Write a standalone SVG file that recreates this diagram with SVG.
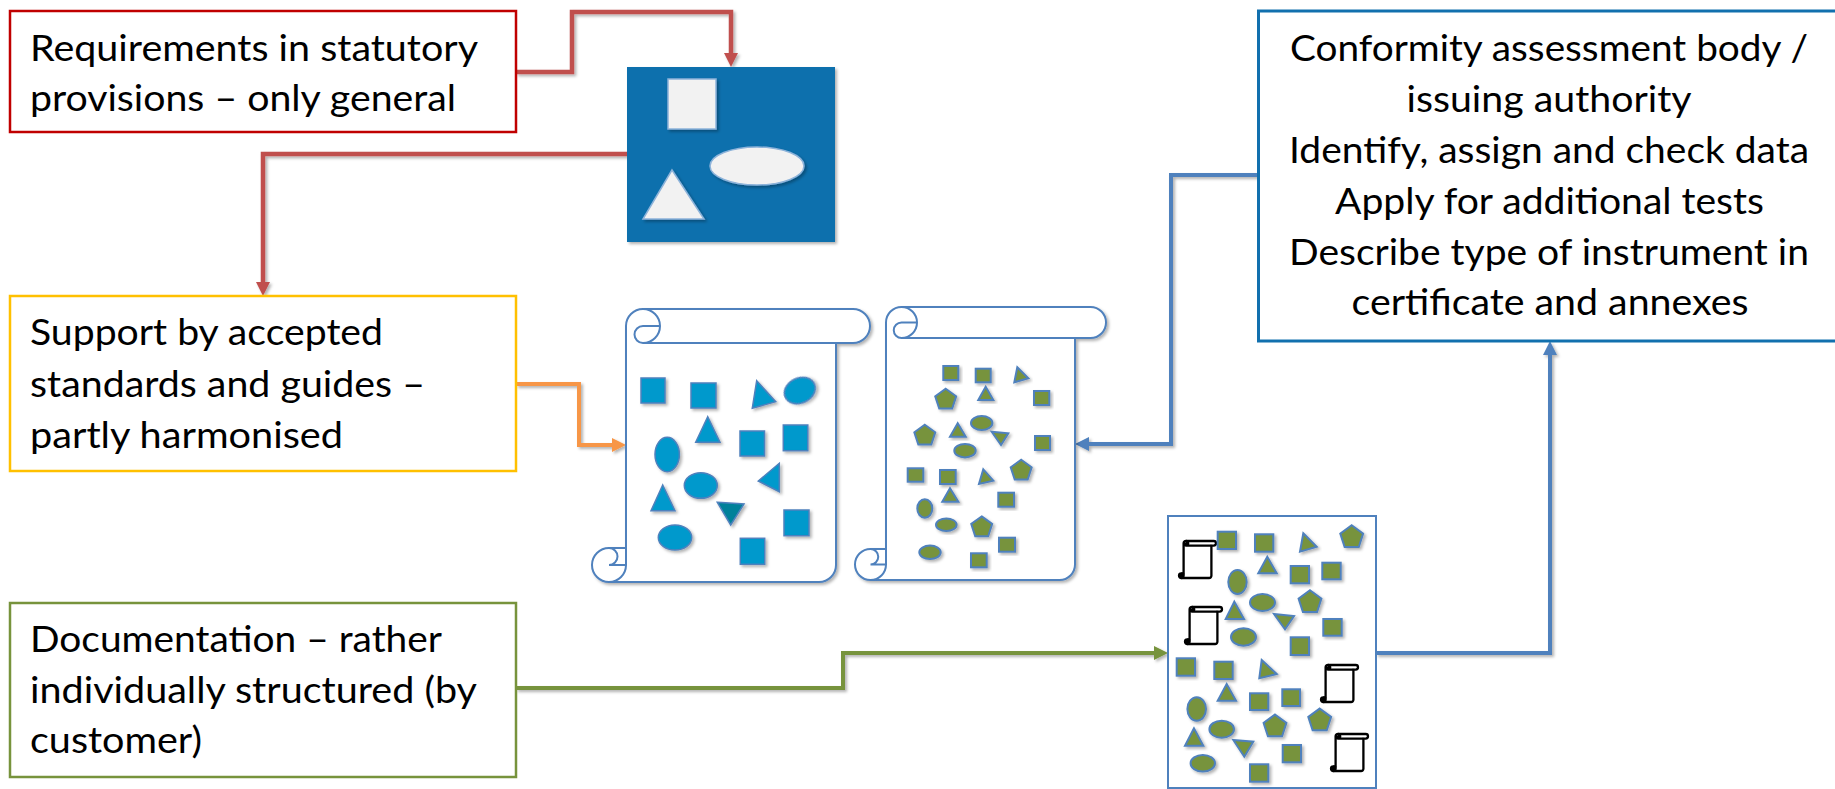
<svg xmlns="http://www.w3.org/2000/svg" xmlns:xlink="http://www.w3.org/1999/xlink" width="1835" height="789" viewBox="0 0 1835 789">
<style>
  .txt { font-family: Lato, "Open Sans", "Liberation Sans", sans-serif; font-size: 36.5px; fill: #000; }
  .mid { text-anchor: middle; }
  .box { fill: #fff; stroke-width: 2.5; }
  .conn { fill: none; stroke-linejoin: miter; filter: url(#sh); }
  .scroll { fill: #fff; stroke: #4F81BD; stroke-width: 2; }
  .scrolld { fill: none; stroke: #4F81BD; stroke-width: 2; }
  .bs { fill: #0099CC; stroke: #4F81BD; stroke-width: 1.5; filter: url(#sh); }
  .gs { fill: #77933C; stroke: #4F81BD; stroke-width: 2; filter: url(#sh); }
  .ws { fill: #F2F2F2; stroke: #8DB3DA; stroke-width: 1.5; filter: url(#sh); }
  .mini { fill: #fff; stroke: #000; stroke-width: 2.3; stroke-linejoin: round; }
  .minid { fill: none; stroke: #000; stroke-width: 2.3; stroke-linejoin: round; }
</style>
<defs>
  <filter id="sh" x="-20%" y="-20%" width="150%" height="150%">
    <feDropShadow dx="2" dy="2" stdDeviation="1.5" flood-color="#000" flood-opacity="0.3"/>
  </filter>
  <marker id="arR" markerUnits="userSpaceOnUse" viewBox="0 0 14 14" markerWidth="14" markerHeight="14" refX="2" refY="7" orient="auto"><path d="M0,0 L14,7 L0,14 z" fill="#C0504D"/></marker>
  <marker id="arO" markerUnits="userSpaceOnUse" viewBox="0 0 14 14" markerWidth="14" markerHeight="14" refX="2" refY="7" orient="auto"><path d="M0,0 L14,7 L0,14 z" fill="#F79646"/></marker>
  <marker id="arG" markerUnits="userSpaceOnUse" viewBox="0 0 14 14" markerWidth="14" markerHeight="14" refX="2" refY="7" orient="auto"><path d="M0,0 L14,7 L0,14 z" fill="#77933C"/></marker>
  <marker id="arB" markerUnits="userSpaceOnUse" viewBox="0 0 14 14" markerWidth="14" markerHeight="14" refX="2" refY="7" orient="auto"><path d="M0,0 L14,7 L0,14 z" fill="#4F81BD"/></marker>
  <polygon id="p11" points="0,-11 10.46,-3.4 6.47,8.9 -6.47,8.9 -10.46,-3.4"/>
  <polygon id="p12" points="0,-12 11.41,-3.71 7.05,9.71 -7.05,9.71 -11.41,-3.71"/>
  <g id="mini">
    <path class="mini" d="M4.6,32.4 L4.6,2.3 A2.3,2.3 0 0 1 6.9,0 L34.7,0 A2.3,2.3 0 0 1 34.7,4.6 L32.4,4.6 L32.4,34.7 A2.3,2.3 0 0 1 30.1,37 L2.3,37 A2.3,2.3 0 0 1 2.3,32.4 Z"/>
    <path class="minid" d="M6.9,0 A2.3,2.3 0 0 1 6.9,4.6 A1.15,1.15 0 0 1 6.9,2.3 L9.2,2.3 M32.4,4.6 L6.9,4.6 M2.3,32.4 A1.15,1.15 0 0 1 2.3,34.7 L4.6,34.7 M2.3,37 A2.3,2.3 0 0 0 4.6,34.7 L4.6,32.4"/>
    <circle cx="2.3" cy="34.7" r="2.2" fill="#000"/>
  </g>
</defs>

<rect width="1835" height="789" fill="#fff"/>

<g id="connectors">
  <path class="conn" stroke="#C0504D" stroke-width="4.5" d="M516,72 L572,72 L572,12 L731,12 L731,55" marker-end="url(#arR)"/>
  <path class="conn" stroke="#C0504D" stroke-width="4.5" d="M627,154 L263,154 L263,284" marker-end="url(#arR)"/>
  <path class="conn" stroke="#C0504D" stroke-width="4.5" d="M731,242 L731,297" marker-end="url(#arR)"/>
  <path class="conn" stroke="#F79646" stroke-width="4" d="M516,384 L579,384 L579,445 L614,445" marker-end="url(#arO)"/>
  <path class="conn" stroke="#77933C" stroke-width="4" d="M516,688 L843,688 L843,653 L1156,653" marker-end="url(#arG)"/>
  <path class="conn" stroke="#4F81BD" stroke-width="4" d="M1258,175 L1171,175 L1171,444 L1087,444" marker-end="url(#arB)"/>
  <path class="conn" stroke="#4F81BD" stroke-width="4" d="M1376,653 L1550,653 L1550,353" marker-end="url(#arB)"/>
</g>

<g id="n-statutory">
  <rect class="box" x="10" y="11" width="506" height="121" stroke="#C00000"/>
  <text class="txt" x="30" y="61" textLength="448" lengthAdjust="spacingAndGlyphs">Requirements in statutory</text>
  <text class="txt" x="30" y="111" textLength="426" lengthAdjust="spacingAndGlyphs">provisions – only general</text>
</g>

<g id="n-standards">
  <rect class="box" x="10" y="296" width="506" height="175" stroke="#FFC000"/>
  <text class="txt" x="30" y="345" textLength="353" lengthAdjust="spacingAndGlyphs">Support by accepted</text>
  <text class="txt" x="30" y="396.5" textLength="395" lengthAdjust="spacingAndGlyphs">standards and guides –</text>
  <text class="txt" x="30" y="447.5" textLength="313" lengthAdjust="spacingAndGlyphs">partly harmonised</text>
</g>

<g id="n-documentation">
  <rect class="box" x="10" y="603" width="506" height="174" stroke="#77933C"/>
  <text class="txt" x="30" y="652" textLength="412" lengthAdjust="spacingAndGlyphs">Documentation – rather</text>
  <text class="txt" x="30" y="702.5" textLength="447" lengthAdjust="spacingAndGlyphs">individually structured (by</text>
  <text class="txt" x="30" y="753" textLength="172" lengthAdjust="spacingAndGlyphs">customer)</text>
</g>

<g id="n-authority">
  <rect x="1258.5" y="11" width="590" height="330" fill="#fff" stroke="#1170AE" stroke-width="3"/>
  <text class="txt mid" x="1549" y="61" textLength="518" lengthAdjust="spacingAndGlyphs">Conformity assessment body /</text>
  <text class="txt mid" x="1549" y="111.5" textLength="285" lengthAdjust="spacingAndGlyphs">issuing authority</text>
  <text class="txt mid" x="1549" y="162.5" textLength="520" lengthAdjust="spacingAndGlyphs">Identify, assign and check data</text>
  <text class="txt mid" x="1549.5" y="213.5" textLength="429" lengthAdjust="spacingAndGlyphs">Apply for additional tests</text>
  <text class="txt mid" x="1549" y="264.5" textLength="520" lengthAdjust="spacingAndGlyphs">Describe type of instrument in</text>
  <text class="txt mid" x="1550" y="315" textLength="397" lengthAdjust="spacingAndGlyphs">certificate and annexes</text>
</g>

<g id="n-requirements">
  <rect x="627" y="67" width="208" height="175" fill="#0B6FAD" filter="url(#sh)"/>
  <rect class="ws" x="668" y="79" width="48" height="50"/>
  <ellipse class="ws" cx="757" cy="166" rx="47" ry="19"/>
  <polygon class="ws" points="672,170 643,219 704,219"/>
</g>

<g id="n-scroll-standards">
  <g filter="url(#sh)">
    <path class="scroll" d="M626,548 L626,326 A17,17 0 0 1 643,309 L853,309 A17,17 0 0 1 853,343 L836,343 L836,565 A17,17 0 0 1 819,582 L609,582 A17,17 0 0 1 609,548 Z"/>
    <path class="scrolld" d="M643,309 A17,17 0 0 1 643,343 A8.5,8.5 0 0 1 643,326 L660,326 M836,343 L643,343 M609,548 A8.5,8.5 0 0 1 609,565 L626,565 M609,582 A17,17 0 0 0 626,565 L626,548"/>
  </g>
  <rect class="bs" x="641" y="378" width="24" height="25"/>
  <rect class="bs" x="691" y="383" width="25" height="25"/>
  <polygon class="bs" points="756.7,380.7 775.7,401.7 752.3,408.3"/>
  <ellipse class="bs" cx="799.8" cy="390.5" rx="16" ry="12.5" transform="rotate(-25 799.8 390.5)"/>
  <polygon class="bs" points="707.7,416.7 695.7,442.3 720,442.3"/>
  <rect class="bs" x="740" y="431" width="24.5" height="25"/>
  <rect class="bs" x="783.3" y="425" width="24.5" height="25.7"/>
  <ellipse class="bs" cx="667.2" cy="454.5" rx="12.2" ry="17.2"/>
  <ellipse class="bs" cx="700.8" cy="485.5" rx="16.5" ry="12.8"/>
  <polygon class="bs" points="779.3,463.3 779.3,491.7 758.3,481"/>
  <polygon class="bs" points="662.7,485 651,510.7 675,510.7"/>
  <polygon class="bs" style="fill:#00819A" points="717.3,502.3 744,504 730.7,525"/>
  <rect class="bs" x="784" y="510" width="25" height="25.7"/>
  <ellipse class="bs" cx="675" cy="537.5" rx="16.7" ry="12.5"/>
  <rect class="bs" x="740.3" y="538.3" width="24.4" height="26"/>
</g>

<g id="n-scroll-data">
  <g filter="url(#sh)">
    <path class="scroll" d="M886,549 L886,322.5 A15.5,15.5 0 0 1 901.5,307 L1090.5,307 A15.5,15.5 0 0 1 1090.5,338 L1075,338 L1075,564.5 A15.5,15.5 0 0 1 1059.5,580 L870.5,580 A15.5,15.5 0 0 1 870.5,549 Z"/>
    <path class="scrolld" d="M901.5,307 A15.5,15.5 0 0 1 901.5,338 A7.75,7.75 0 0 1 901.5,322.5 L917,322.5 M1075,338 L901.5,338 M870.5,549 A7.75,7.75 0 0 1 870.5,564.5 L886,564.5 M870.5,580 A15.5,15.5 0 0 0 886,564.5 L886,549"/>
  </g>
  <rect class="gs" x="943.3" y="366" width="15" height="14"/>
  <rect class="gs" x="975.7" y="368.7" width="15" height="13.6"/>
  <polygon class="gs" points="1017.3,367.3 1028.3,378.3 1014.3,382.3"/>
  <use href="#p11" class="gs" x="945.7" y="399.7"/>
  <polygon class="gs" points="985.7,386.7 978.3,400 993.3,400"/>
  <rect class="gs" x="1034" y="391" width="15.3" height="14"/>
  <use href="#p11" class="gs" x="924.8" y="435.7"/>
  <polygon class="gs" points="957.7,423.3 950,436.7 965.7,436.7"/>
  <ellipse class="gs" cx="981.7" cy="423" rx="10.7" ry="7"/>
  <polygon class="gs" points="991.7,431.7 1008.3,433.3 1001,445"/>
  <rect class="gs" x="1035" y="436" width="15" height="14"/>
  <ellipse class="gs" cx="965" cy="450.7" rx="10.7" ry="6.7"/>
  <rect class="gs" x="907.7" y="468.3" width="15.6" height="13.4"/>
  <rect class="gs" x="940" y="470" width="15.7" height="14"/>
  <polygon class="gs" points="983.3,469.3 993.3,480.7 979,484"/>
  <use href="#p11" class="gs" x="1021.2" y="470.7"/>
  <polygon class="gs" points="950,488.3 942.3,501.7 958.3,501.7"/>
  <rect class="gs" x="998.3" y="492.7" width="15.7" height="14"/>
  <ellipse class="gs" cx="924.8" cy="508.5" rx="7.5" ry="9.2"/>
  <ellipse class="gs" cx="946.3" cy="524.7" rx="10.3" ry="6.3"/>
  <use href="#p11" class="gs" x="981.7" y="527.4"/>
  <rect class="gs" x="999" y="537.7" width="16" height="14"/>
  <ellipse class="gs" cx="930" cy="552.3" rx="10.7" ry="6.7"/>
  <rect class="gs" x="971" y="553.3" width="15.7" height="14"/>
</g>

<g id="n-customer-docs">
  <rect x="1168" y="516" width="208" height="272" fill="#fff" stroke="#4F81BD" stroke-width="2"/>
  <use href="#mini" x="1179" y="541"/>
  <use href="#mini" x="1185" y="607"/>
  <use href="#mini" x="1321" y="665"/>
  <use href="#mini" x="1331" y="734"/>
  <rect class="gs" x="1217.7" y="531.7" width="18.3" height="17.3"/>
  <rect class="gs" x="1255" y="534.3" width="18.3" height="17.4"/>
  <polygon class="gs" points="1303.3,533.3 1316.7,546.7 1300,551.7"/>
  <use href="#p12" class="gs" x="1351.7" y="537.3"/>
  <polygon class="gs" points="1267.3,556.7 1258.3,573.3 1276.7,573.3"/>
  <rect class="gs" x="1290.7" y="566" width="18.3" height="17.3"/>
  <rect class="gs" x="1322.3" y="562.7" width="18.4" height="16.6"/>
  <ellipse class="gs" cx="1237.5" cy="582" rx="9.2" ry="12"/>
  <ellipse class="gs" cx="1262.5" cy="602.5" rx="12.5" ry="8.5"/>
  <use href="#p12" class="gs" x="1310" y="602.3"/>
  <polygon class="gs" points="1234.3,601.7 1225.7,619 1244,619"/>
  <polygon class="gs" points="1274,614 1294,616 1285,629.3"/>
  <rect class="gs" x="1323.3" y="619" width="18.4" height="16.7"/>
  <ellipse class="gs" cx="1243.5" cy="637" rx="12.5" ry="8.7"/>
  <rect class="gs" x="1290.7" y="637.3" width="18.3" height="17.7"/>
  <rect class="gs" x="1176.7" y="658.3" width="18.3" height="17.4"/>
  <rect class="gs" x="1214.3" y="661.7" width="18.4" height="17.3"/>
  <polygon class="gs" points="1261.7,660 1276.7,674 1259.3,678.3"/>
  <polygon class="gs" points="1226.7,684 1217.7,700.7 1236,700.7"/>
  <rect class="gs" x="1250" y="693.3" width="18.3" height="16.7"/>
  <rect class="gs" x="1282.3" y="689.3" width="17.7" height="16.7"/>
  <ellipse class="gs" cx="1196.7" cy="709" rx="9.3" ry="11.7"/>
  <use href="#p12" class="gs" x="1275" y="726.6"/>
  <use href="#p12" class="gs" x="1319.7" y="720.6"/>
  <ellipse class="gs" cx="1221.7" cy="729.2" rx="12.3" ry="8.5"/>
  <polygon class="gs" points="1194,728.3 1185,745.7 1203.3,745.7"/>
  <polygon class="gs" points="1233.3,740 1253.3,741.7 1244.3,756.7"/>
  <rect class="gs" x="1282.7" y="745" width="18.3" height="17.3"/>
  <ellipse class="gs" cx="1202.8" cy="763.3" rx="12.2" ry="8.3"/>
  <rect class="gs" x="1250" y="764.3" width="18.3" height="17.4"/>
</g>
</svg>
